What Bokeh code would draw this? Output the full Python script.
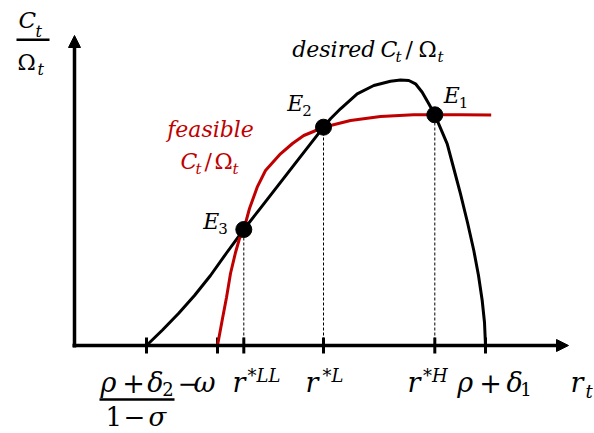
from bokeh.plotting import figure
from bokeh.models import Range1d, Arrow, NormalHead
from bokeh.embed import file_html
from bokeh.resources import INLINE
from bokeh.core.properties import value

# ---- data (abstract units; origin at the axes corner) ----
desired_r = [72, 88, 104, 120, 136, 152, 169.3, 186, 206, 226, 249, 256, 266, 282.7, 299.3,
             316, 326, 334.3, 341, 347.7, 354.3, 360.3, 367.7, 372.7, 379, 386, 393, 399.3,
             404, 407.7, 410, 411]
desired_c = [0, 15.5, 32, 50, 70, 92.5, 116, 137.4, 163.1, 188.8, 218.3, 226.7, 236.7, 251.7, 260,
             264.3, 265.5, 265, 261.7, 253.3, 241.7, 230.7, 213.3, 201.7, 178, 151.7, 123, 95,
             70, 45, 23, 0]
feasible_r = [143, 148, 152, 156, 161, 165, 169.3, 175, 182.7, 191, 206, 218, 229.3, 239,
              249, 256, 276, 306, 339, 360.3, 386, 416.7]
feasible_c = [0, 27, 48, 72, 93, 107, 116, 137, 158.3, 175, 191.7, 202, 210, 214,
              218.3, 220, 225, 229, 230.7, 230.7, 230.7, 230.5]
eq_names = ["E1", "E2", "E3"]
eq_r = [360.3, 249, 169.3]
eq_c = [230.7, 218.3, 116]
tick_r = [72, 143, 169.3, 249, 360.3, 411]
tick_labels = ["(ρ+δ2)/(1−σ)", "−ω", "r*LL", "r*L", "r*H", "ρ+δ1"]

RED = "#C00000"
FONT = value("DejaVu Serif")

p = figure(width=594, height=433, x_range=Range1d(-74, 520), y_range=Range1d(-88, 345),
           output_backend="svg", toolbar_location=None, x_axis_type=None, y_axis_type=None,
           min_border=0, outline_line_color=None, background_fill_color="white")
for g in list(p.grid):
    g.visible = False

# axes with arrows
p.add_layout(Arrow(end=NormalHead(size=12, fill_color="black", line_color="black", line_width=1),
                   x_start=-2, y_start=0, x_end=494, y_end=0, line_width=3.5, line_color="black"))
p.add_layout(Arrow(end=NormalHead(size=12, fill_color="black", line_color="black", line_width=1),
                   x_start=0, y_start=-2, x_end=0, y_end=310, line_width=3.5, line_color="black"))

# ticks
p.segment(x0=tick_r, y0=[-8] * len(tick_r), x1=tick_r, y1=[8] * len(tick_r),
          line_width=3, line_color="black")

# dashed guides
p.segment(x0=eq_r, y0=[0] * len(eq_r), x1=eq_r, y1=eq_c, line_width=1,
          line_color="black", line_dash="3 2")

# curves
p.line(desired_r, desired_c, line_width=3, line_color="black", line_join="round")
p.line(feasible_r, feasible_c, line_width=3, line_color=RED, line_join="round")

# equilibrium points
p.scatter(eq_r, eq_c, size=16, fill_color="black", line_color="black")


def txt(x, y, s, size, italic=True, color="black", align="left"):
    # svg text sits on its descent line; lift it so y is the alphabetic baseline
    p.text(x=[x], y=[y + 0.236 * size], text=[s], text_font=FONT, text_font_size=f"{size}px",
           text_font_style="italic" if italic else "normal", text_color=color,
           text_align=align, text_baseline="alphabetic")


# y-axis label (fraction)
txt(-56, 320, "C", 23)
txt(-39, 310, "t", 16)
p.segment(x0=[-58], y0=[305.7], x1=[-25], y1=[305.7], line_width=2.5, line_color="black")
txt(-57, 278, "Ω", 22, italic=False)
txt(-37, 272, "t", 16)

# equilibrium labels
for (lx, ly, sub) in [(369.3, 245, "1"), (212.7, 237, "2"), (128.7, 119, "3")]:
    txt(lx, ly, "E", 22)
    txt(lx + 15, ly - 6, sub, 15, italic=False)

# desired label
txt(217.7, 291, "desired", 22)
txt(306, 291, "C", 22)
txt(321, 285, "t", 15)
txt(331, 291, "/", 22, italic=False)
txt(344, 291, "Ω", 22, italic=False)
txt(363, 285, "t", 15)

# feasible label
txt(136, 211, "feasible", 22, color=RED, align="center")
txt(106, 179, "C", 22, color=RED)
txt(121, 173, "t", 15, color=RED)
txt(130, 179, "/", 22, italic=False, color=RED)
txt(140, 179, "Ω", 22, italic=False, color=RED)
txt(158, 173, "t", 15, color=RED)

# x tick labels
BL = -43
txt(26, BL, "ρ", 27)
txt(47.7, BL, "+", 27, italic=False)
txt(72.7, BL, "δ", 27)
txt(87.7, BL - 5, "2", 18, italic=False)
p.segment(x0=[25], y0=[-54], x1=[100], y1=[-54], line_width=2.5, line_color="black")
txt(31, -77.5, "1", 26, italic=False)
txt(49, -77.5, "−", 26, italic=False)
txt(74, -77.5, "σ", 26)

txt(103, BL, "−", 27, italic=False)
txt(119, BL, "ω", 27)

txt(158, BL, "r", 27)
txt(173, BL + 9, "*LL", 18)
txt(231, BL, "r", 27)
txt(248, BL + 9, "*L", 18)
txt(333, BL, "r", 27)
txt(348.6, BL + 9, "*H", 18)

txt(382.7, BL, "ρ", 27)
txt(404.8, BL, "+", 27, italic=False)
txt(432, BL, "δ", 27)
txt(445.7, BL - 5, "1", 18, italic=False)

txt(496, BL, "r", 27)
txt(511, BL - 7, "t", 18)

open("out.html", "w").write(file_html(p, INLINE))
